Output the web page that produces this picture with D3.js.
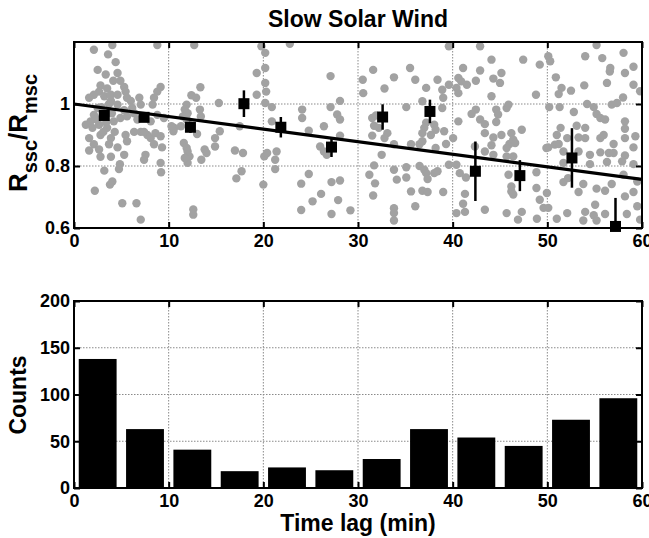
<!DOCTYPE html>
<html>
<head>
<meta charset="utf-8">
<script src="https://cdn.jsdelivr.net/npm/d3@7"></script>
<style>
  body { margin: 0; background: #fff; }
  svg text { font-family: "Liberation Sans", Arial, sans-serif; font-weight: bold; fill: #000; }
</style>
</head>
<body>
<svg id="chart" width="649" height="538"></svg>
<script>
// ---- data ----
const scatterPts = [
  [2.1,1.175],[4.05,1.19],[8.8,1.19],[3.6,1.16],[4.4,1.135],[2.5,1.11],[3.35,1.095],[4.6,1.10],[4.9,1.075],[4.15,1.075],
  [2.8,1.06],[3.5,1.05],[5.3,1.055],[5.45,1.04],[2.65,1.04],[2.1,1.03],[1.6,1.02],[3.2,1.025],[3.9,1.03],[4.6,1.03],
  [5.6,1.02],[6.0,1.01],[6.9,1.02],[8.8,1.04],[9.15,1.055],[8.45,1.02],[8.3,0.998],[7.05,0.998],[6.15,0.987],[5.3,0.98],
  [4.6,0.998],[3.9,1.01],[2.5,0.987],[2.1,0.965],[1.75,0.944],[2.65,0.933],[3.5,0.923],[4.2,0.944],[4.9,0.955],[5.6,0.96],
  [6.35,0.97],[6.7,0.95],[8.1,0.944],[8.8,0.965],[9.5,0.955],[1.95,0.923],[2.8,0.90],[3.9,0.89],[2.1,0.87],[1.6,0.85],
  [2.65,0.853],[3.7,0.87],[4.6,0.86],[5.45,0.90],[5.3,0.836],[3.9,0.83],[2.8,0.83],[7.05,0.91],[7.75,0.90],[8.1,0.89],
  [8.6,0.906],[9.15,0.896],[8.45,0.87],[7.55,0.836],[7.4,0.82],[9.15,0.81],[9.2,0.78],[4.85,0.806],[4.75,0.79],[3.2,0.785],
  [4.05,0.75],[3.8,0.74],[2.2,0.72],[5.1,0.68],[6.6,0.68],[7.05,0.627],[9.3,0.86],[1.6,0.89],[1.25,0.933],[5.6,0.88],
  [6.35,0.91],[7.4,0.91],[3.0,0.96],[3.4,0.94],[4.0,0.97],[2.4,0.95],[3.1,0.91],[4.3,0.91],[2.9,0.99],[3.7,1.0],
  [12.7,1.19],[19.8,1.186],[19.3,1.10],[13.35,1.054],[12.4,1.028],[12.9,1.02],[11.9,0.998],[11.7,0.982],[12.0,0.97],[11.5,0.96],
  [11.9,0.95],[13.3,0.982],[13.4,0.96],[15.3,1.003],[11.3,0.928],[10.6,0.923],[10.5,0.912],[10.3,0.928],[13.0,0.903],[15.4,0.912],
  [14.9,0.89],[11.6,0.874],[11.9,0.858],[12.0,0.847],[13.8,0.853],[14.0,0.842],[14.9,0.863],[12.2,0.831],[12.0,0.81],[13.45,0.82],
  [17.0,0.85],[17.85,0.842],[17.5,0.928],[19.3,1.03],[17.7,0.783],[17.15,0.76],[12.6,0.66],[12.6,0.643],[20.0,0.74],[20.1,0.831],
  [11.7,0.826],
  [22.8,1.194],[20.2,1.165],[20.2,1.116],[20.2,1.068],[27.1,1.09],[20.2,1.003],[20.9,0.99],[24.1,0.982],[24.1,0.955],[27.1,0.99],
  [28.1,1.01],[27.8,0.966],[28.1,0.95],[20.9,0.944],[24.8,0.914],[26.4,0.928],[28.1,0.898],[26.0,0.863],[26.4,0.847],[26.7,0.836],
  [20.4,0.842],[21.4,0.847],[21.25,0.82],[21.25,0.79],[24.8,0.774],[24.0,0.743],[27.2,0.748],[28.1,0.753],[26.1,0.71],
  [25.2,0.686],[27.9,0.69],[24.0,0.658],[27.2,0.645],[29.2,0.657],[20.3,1.04],
  [39.6,1.186],[31.6,1.11],[35.5,1.116],[30.5,1.078],[33.8,1.086],[36.05,1.078],[30.55,1.035],[32.8,1.05],[38.4,1.078],[38.9,1.046],
  [37.2,1.052],[39.6,1.062],[35.1,0.99],[36.8,1.009],[38.9,0.987],[39.0,1.02],[31.5,0.955],[31.9,0.963],[32.2,0.923],[31.7,0.93],
  [33.1,0.906],[32.8,0.89],[31.5,0.898],[33.8,0.87],[35.6,0.87],[36.5,0.87],[36.8,0.88],[37.2,0.94],[37.0,0.923],[36.8,0.906],
  [38.05,0.933],[38.2,0.917],[37.7,0.9],[39.1,0.912],[38.2,0.858],[39.3,0.871],[32.5,0.836],[31.7,0.802],[31.2,0.772],[33.8,0.788],
  [35.1,0.796],[36.5,0.8],[37.0,0.788],[37.2,0.777],[38.05,0.777],[38.4,0.783],[37.35,0.758],[35.1,0.763],[34.1,0.756],[31.8,0.744],
  [31.6,0.705],[35.6,0.718],[36.8,0.72],[37.35,0.716],[39.0,0.716],[36.05,0.67],[33.8,0.664],[33.8,0.648],[33.8,0.624],[39.6,0.804],
  [42.9,1.186],[44.1,1.143],[47.45,1.143],[49.2,1.127],[41.1,1.116],[42.9,1.108],[45.15,1.1],[40.6,1.084],[40.9,1.073],[41.5,1.062],
  [40.4,1.052],[40.6,1.035],[42.45,1.075],[44.3,1.082],[45.0,1.068],[44.1,1.025],[48.8,1.03],[42.45,0.982],[42.0,0.968],[44.6,0.982],
  [44.8,0.966],[45.7,0.987],[45.9,0.998],[40.6,0.944],[42.9,0.95],[43.4,0.935],[44.6,0.942],[47.3,0.917],[43.4,0.906],[44.3,0.892],
  [45.15,0.9],[46.2,0.906],[40.05,0.89],[42.35,0.863],[44.1,0.867],[46.0,0.871],[46.4,0.885],[46.6,0.874],[45.7,0.858],[43.4,0.847],
  [44.3,0.836],[45.7,0.831],[46.4,0.831],[49.9,0.858],[40.4,0.804],[40.75,0.777],[41.4,0.763],[45.9,0.772],[48.85,0.78],[46.2,0.734],
  [46.2,0.718],[46.4,0.708],[48.85,0.729],[41.3,0.71],[41.1,0.678],[40.4,0.648],[41.3,0.652],[43.4,0.659],[45.7,0.648],[47.3,0.652],
  [46.9,0.627],[48.9,0.63],[49.2,0.691],[49.6,0.665],
  [50.1,1.154],[50.3,1.138],[54.0,1.154],[55.2,1.19],[58.05,1.165],[55.8,1.148],[56.65,1.116],[56.6,1.105],[59.1,1.12],[58.2,1.1],
  [50.9,1.086],[51.5,1.052],[51.2,1.032],[52.5,1.043],[53.9,1.06],[56.3,1.068],[59.1,1.062],[59.8,1.041],[58.0,1.021],[54.2,1.0],
  [54.9,0.99],[56.8,0.998],[57.35,1.003],[50.2,0.99],[51.3,0.99],[52.8,0.974],[55.2,0.968],[55.6,0.955],[56.1,0.95],[58.2,0.944],
  [58.2,0.92],[51.4,0.923],[53.1,0.93],[54.0,0.923],[51.0,0.9],[52.1,0.89],[50.8,0.869],[51.2,0.871],[53.3,0.892],[54.0,0.89],
  [55.6,0.89],[55.95,0.9],[57.0,0.871],[58.2,0.89],[59.3,0.896],[50.1,0.86],[51.7,0.847],[53.3,0.847],[54.5,0.836],[55.6,0.844],
  [56.5,0.842],[57.0,0.842],[58.2,0.834],[59.1,0.86],[51.7,0.81],[54.5,0.806],[56.3,0.813],[57.9,0.815],[59.1,0.806],[51.7,0.748],
  [52.2,0.761],[53.8,0.742],[55.2,0.727],[56.1,0.72],[56.8,0.742],[58.05,0.772],[59.5,0.75],[49.95,0.713],[53.3,0.716],[58.2,0.702],
  [59.1,0.716],[55.05,0.675],[52.1,0.648],[51.0,0.63],[54.0,0.652],[54.9,0.641],[56.1,0.645],[58.4,0.645],[59.5,0.67],[53.8,0.624],
  [55.2,0.624],[50.1,0.665],[59.8,0.627]
];

const meanLag   = [3.2, 7.4, 12.3, 17.95, 21.85, 27.2, 32.6, 37.6, 42.4, 47.1, 52.6, 57.2];
const meanRatio = [0.963, 0.957, 0.925, 1.001, 0.925, 0.861, 0.958, 0.976, 0.783, 0.769, 0.826, 0.605];
const meanErr   = [0.014, 0.012, 0.018, 0.043, 0.033, 0.032, 0.041, 0.038, 0.096, 0.05, 0.096, 0.092];

const fitLine = [[0, 1.0], [60, 0.757]];

const binCenters = [2.5, 7.5, 12.5, 17.5, 22.5, 27.5, 32.5, 37.5, 42.5, 47.5, 52.5, 57.5];
const binCounts  = [138, 63, 41, 18, 22, 19, 31, 63, 54, 45, 73, 96];
const binWidth = 4;

const xTicks = [0, 10, 20, 30, 40, 50, 60];
const ratioTicks = [0.6, 0.8, 1];
const countTicks = [0, 50, 100, 150, 200];

// ---- layout ----
const svg = d3.select('#chart');
const left = 74, right = 642;
const top1 = { top: 42, bottom: 228 };
const bot1 = { top: 301, bottom: 488 };

const x = d3.scaleLinear().domain([0, 60]).range([left, right]);
const yR = d3.scaleLinear().domain([0.6, 1.2]).range([top1.bottom, top1.top]);
const yC = d3.scaleLinear().domain([0, 200]).range([bot1.bottom, bot1.top]);

svg.append('defs').append('clipPath').attr('id', 'clipTop')
  .append('rect')
  .attr('x', left).attr('y', top1.top)
  .attr('width', right - left).attr('height', top1.bottom - top1.top);

function grid(g, yScale, yGrid, y0, y1) {
  g.selectAll('.gx').data(xTicks.slice(1, -1)).join('line')
    .attr('x1', d => x(d)).attr('x2', d => x(d))
    .attr('y1', y0).attr('y2', y1);
  g.selectAll('.gy').data(yGrid).join('line')
    .attr('x1', left).attr('x2', right)
    .attr('y1', d => yScale(d)).attr('y2', d => yScale(d));
  g.selectAll('line')
    .attr('stroke', '#8a8a8a').attr('stroke-width', 1)
    .attr('stroke-dasharray', '1.5,1.5');
}

function axes(yScale, yTicks, yFmt, y0, y1) {
  const style = g => {
    g.select('.domain').remove();
    g.selectAll('.tick line').attr('stroke', '#000').attr('stroke-width', 2);
    g.selectAll('text').style('font-size', '18px').style('font-family', '"Liberation Sans", Arial, sans-serif');
  };
  svg.append('g').attr('transform', `translate(0,${y1})`)
    .call(d3.axisBottom(x).tickValues(xTicks).tickSize(-6).tickPadding(6).tickFormat(d3.format('d')))
    .call(style);
  svg.append('g').attr('transform', `translate(0,${y0})`)
    .call(d3.axisTop(x).tickValues(xTicks).tickSize(-6).tickFormat(''))
    .call(style);
  svg.append('g').attr('transform', `translate(${left},0)`)
    .call(d3.axisLeft(yScale).tickValues(yTicks).tickSize(-6).tickPadding(4).tickFormat(yFmt))
    .call(style);
  svg.append('g').attr('transform', `translate(${right},0)`)
    .call(d3.axisRight(yScale).tickValues(yTicks).tickSize(-6).tickFormat(''))
    .call(style);
  svg.append('rect')
    .attr('x', left).attr('y', y0)
    .attr('width', right - left).attr('height', y1 - y0)
    .attr('fill', 'none').attr('stroke', '#000').attr('stroke-width', 2);
}

// ---- top panel ----
grid(svg.append('g'), yR, [0.8, 1.0], top1.top, top1.bottom);

const topG = svg.append('g').attr('clip-path', 'url(#clipTop)');
topG.selectAll('circle').data(scatterPts).join('circle')
  .attr('cx', d => x(d[0])).attr('cy', d => yR(d[1]))
  .attr('r', 4.2).attr('fill', '#a2a2a2');

topG.append('path')
  .datum(fitLine)
  .attr('d', d3.line().x(d => x(d[0])).y(d => yR(d[1])))
  .attr('stroke', '#000').attr('stroke-width', 3.2).attr('fill', 'none');

topG.selectAll('.err').data(meanLag).join('line')
  .attr('x1', d => x(d)).attr('x2', d => x(d))
  .attr('y1', (d, i) => yR(meanRatio[i] - meanErr[i]))
  .attr('y2', (d, i) => yR(meanRatio[i] + meanErr[i]))
  .attr('stroke', '#000').attr('stroke-width', 2.5);

svg.append('g').selectAll('rect').data(meanLag).join('rect')
  .attr('x', d => x(d) - 5.5).attr('y', (d, i) => yR(meanRatio[i]) - 5.5)
  .attr('width', 11).attr('height', 11).attr('fill', '#000');

axes(yR, ratioTicks, d3.format('~g'), top1.top, top1.bottom);

svg.append('text')
  .attr('x', 358).attr('y', 27)
  .attr('text-anchor', 'middle')
  .style('font-size', '23px')
  .text('Slow Solar Wind');

const yl = svg.append('text')
  .attr('transform', 'translate(27,133) rotate(-90)')
  .attr('text-anchor', 'middle')
  .style('font-size', '26px');
yl.append('tspan').text('R');
yl.append('tspan').attr('dy', 10).style('font-size', '20px').text('ssc');
yl.append('tspan').attr('dy', -10).text('/R');
yl.append('tspan').attr('dy', 10).style('font-size', '20px').text('msc');

// ---- bottom panel ----
grid(svg.append('g'), yC, [50, 100, 150], bot1.top, bot1.bottom);

svg.append('g').selectAll('rect').data(binCenters).join('rect')
  .attr('x', d => x(d - binWidth / 2))
  .attr('width', x(binWidth) - x(0))
  .attr('y', (d, i) => yC(binCounts[i]))
  .attr('height', (d, i) => yC(0) - yC(binCounts[i]))
  .attr('fill', '#000');

axes(yC, countTicks, d3.format('d'), bot1.top, bot1.bottom);

svg.append('text')
  .attr('transform', 'translate(26,395) rotate(-90)')
  .attr('text-anchor', 'middle')
  .style('font-size', '23px')
  .text('Counts');

svg.append('text')
  .attr('x', 358).attr('y', 531)
  .attr('text-anchor', 'middle')
  .style('font-size', '23px')
  .text('Time lag (min)');
</script>
</body>
</html>
